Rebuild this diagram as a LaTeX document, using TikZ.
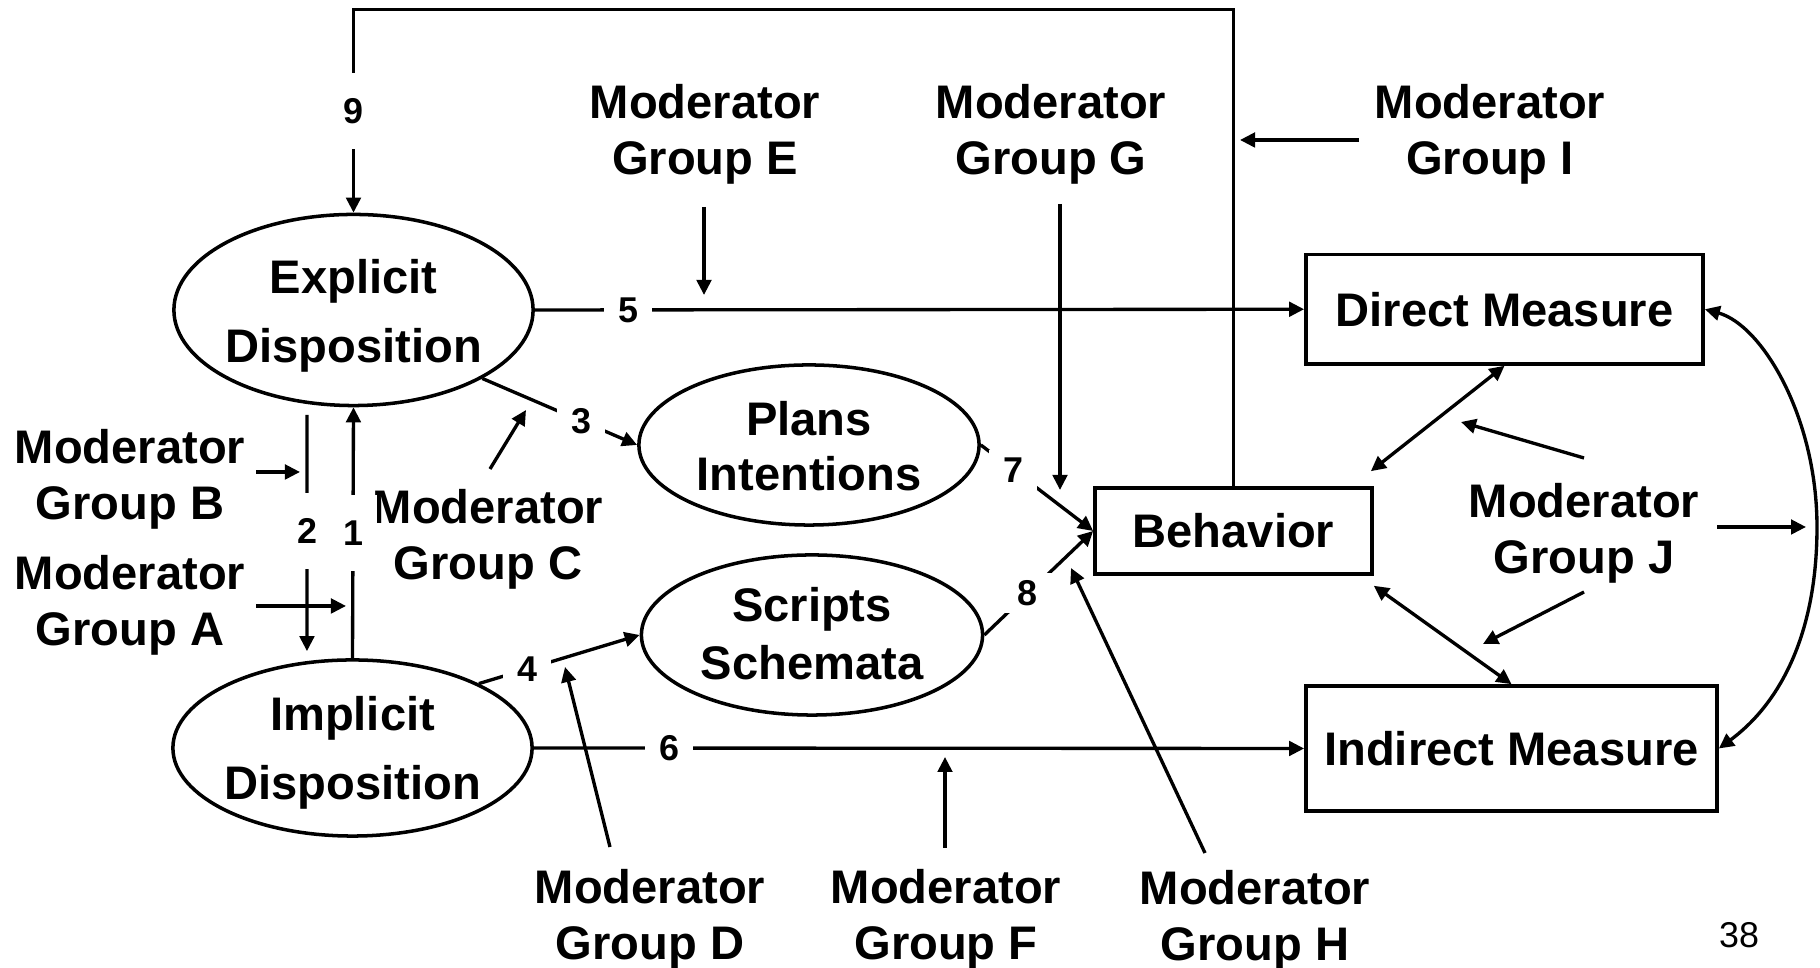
\documentclass[tikz,border=0pt]{standalone}
\usepackage{fontspec}
\setmainfont{Liberation Sans}
\usetikzlibrary{shapes.geometric,arrows.meta}
\tikzset{
  tipA/.tip={Triangle[length=0.15cm,width=0.145cm]},
  arr/.style={-tipA, line width=0.95pt},
  dbl/.style={tipA-tipA, line width=0.95pt},
  ell/.style={ellipse, draw, line width=1pt, inner sep=0pt},
  box/.style={rectangle, draw, line width=1pt, inner sep=0pt, font=\fontsize{13.4pt}{15.9pt}\selectfont\bfseries},
  lab/.style={font=\fontsize{13.4pt}{15.9pt}\selectfont\bfseries, align=center, inner sep=0pt},
  num/.style={font=\fontsize{10.2pt}{12pt}\selectfont\bfseries, fill=white, inner sep=0pt, minimum width=0.48cm, minimum height=0.40cm},
  numv/.style={num, minimum height=0.76cm},
}
\begin{document}
\begin{tikzpicture}[x=0.01cm,y=-0.01cm]
\useasboundingbox (0,0) rectangle (1820,968);

% ---- ellipses
\node[ell, minimum width=3.59cm, minimum height=1.91cm] (expl) at (353.5,310) {};
\node[lab, font=\fontsize{13.4pt}{19.6pt}\selectfont\bfseries] (explT) at (353.5,316) {Explicit\\Disposition};
\node[ell, minimum width=3.59cm, minimum height=1.76cm] (impl) at (352.5,748) {};
\node[lab, font=\fontsize{13.4pt}{19.6pt}\selectfont\bfseries] (implT) at (352.5,753) {Implicit\\Disposition};
\node[ell, minimum width=3.40cm, minimum height=1.60cm] (plans) at (809,445) {};
\node[lab, font=\fontsize{13.4pt}{15.8pt}\selectfont\bfseries] (plansT) at (809,446) {Plans\\Intentions};
\node[ell, minimum width=3.41cm, minimum height=1.60cm] (scripts) at (812,635) {};
\node[lab, font=\fontsize{13.4pt}{16.5pt}\selectfont\bfseries] (scriptsT) at (812,634) {Scripts\\Schemata};

% ---- boxes
\node[box, minimum width=2.77cm, minimum height=0.86cm] (beh) at (1233.5,531) {Behavior};
\node[box, minimum width=3.97cm, minimum height=1.095cm] (dm) at (1504.5,309.25) {Direct Measure};
\node[box, minimum width=4.11cm, minimum height=1.25cm] (im) at (1511.5,748.5) {Indirect Measure};

% ---- moderator labels
\node[lab] (modA) at (130,605) {Moderator\\Group A};
\node[lab] (modB) at (130,479) {Moderator\\Group B};
\node[lab] (modC) at (488,539) {Moderator\\Group C};
\node[lab] (modD) at (650,919) {Moderator\\Group D};
\node[lab] (modE) at (705,134) {Moderator\\Group E};
\node[lab] (modF) at (946,919) {Moderator\\Group F};
\node[lab] (modG) at (1051,134) {Moderator\\Group G};
\node[lab] (modH) at (1255,920) {Moderator\\Group H};
\node[lab] (modI) at (1490,134) {Moderator\\Group I};
\node[lab] (modJ) at (1584,533) {Moderator\\Group J};
\node[font=\fontsize{10.2pt}{12pt}\selectfont, inner sep=0pt] (pg) at (1739,935) {38};

% ---- free ends of moderator arrows
\coordinate (As) at (256,606);  \coordinate (At) at (346,606);
\coordinate (Bs) at (256,472);  \coordinate (Bt) at (300,472);
\coordinate (Cs) at (490,469);  \coordinate (Ct) at (526,410);
\coordinate (Ds) at (610,847);  \coordinate (Dt) at (565,667);
\coordinate (Es) at (704,207);  \coordinate (Et) at (704,295);
\coordinate (Fs) at (945,848);  \coordinate (Ft) at (945,757);
\coordinate (Gs) at (1060,204); \coordinate (Gt) at (1060,490);
\coordinate (Hs) at (1205,853); \coordinate (Ht) at (1071,568);
\coordinate (Is) at (1359,140); \coordinate (It) at (1240,140);
\coordinate (J1s) at (1584,458); \coordinate (J1t) at (1461,422);
\coordinate (J2s) at (1584,592); \coordinate (J2t) at (1483,644);
\coordinate (J3s) at (1717,527); \coordinate (J3t) at (1806,527);
\coordinate (top) at (0,9.5);
\coordinate (bulge) at (1817,527);

% ---- numbered paths
\draw[arr] (beh.north) -- (beh.north |- top) -- (expl.north |- top)
   -- node[numv, pos=0.5] {9} (expl.north);
\draw[arr] (expl.east) -- node[num, pos=0.1216] {5} (dm.west);
\draw[arr] (impl.east) -- node[num, pos=0.1757] {6} (im.west);
\draw[arr] (expl.-28.6) -- node[num, pos=0.64] {3} (plans.west);
\draw[arr] (impl.27) -- node[num, pos=0.30] {4} (scripts.west);
\draw[arr] (plans.east) -- node[num, pos=0.29] {7} (beh.west);
\draw[arr] (scripts.east) -- node[num, pos=0.40] {8} (beh.west);
\draw[arr] ([xshift=-0.465cm,yshift=-0.075cm]expl.south) -- node[numv, pos=0.49] {2}
   ([xshift=-0.455cm,yshift=0.07cm]impl.north);
\draw[arr] (impl.north) -- node[numv, pos=0.5] {1} (expl.south);

% ---- measures
\draw[dbl] (dm.south) -- ([xshift=-0.03cm,yshift=0.15cm]beh.north east);
\draw[dbl] ([yshift=-0.10cm]beh.south east) -- (im.north);
\draw[dbl] (dm.east) .. controls (1762,325) and (1817,417) .. (bulge)
   .. controls (1817,637) and (1778,705) .. (im.east);

% ---- moderator arrows
\draw[arr] (As) -- (At);
\draw[arr] (Bs) -- (Bt);
\draw[arr] (Cs) -- (Ct);
\draw[arr] (Ds) -- (Dt);
\draw[arr] (Es) -- (Et);
\draw[arr] (Fs) -- (Ft);
\draw[arr] (Gs) -- (Gt);
\draw[arr] (Hs) -- (Ht);
\draw[arr] (Is) -- (It);
\draw[arr] (J1s) -- (J1t);
\draw[arr] (J2s) -- (J2t);
\draw[arr] (J3s) -- (J3t);
\end{tikzpicture}
\end{document}
